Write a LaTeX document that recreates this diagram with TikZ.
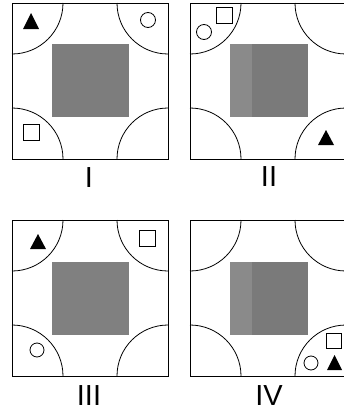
\documentclass[tikz,border=0pt]{standalone}
\usepackage{fontspec}
\setmainfont{Liberation Sans}
\begin{document}
\begin{tikzpicture}[x=1pt,y=-1pt,
  frame/.style={draw=black,line width=0.9pt},
  arcline/.style={draw=black,line width=0.8pt},
  shapeline/.style={draw=black,line width=0.8pt},
  grayA/.style={fill=black!46},
  grayB/.style={fill=black!52},
  lbl/.style={font=\fontsize{29}{29}\selectfont,inner sep=0pt}]
\useasboundingbox (0,0) rectangle (343,415);
% panel frames with corner arcs
\foreach \px/\py/\nm in {12/3/P1,190/3/P2,12/220/P3,190/220/P4}{
  \coordinate (\nm) at (\px,\py);
  \draw[frame] (\px,\py) rectangle ++(156,156);
  \draw[arcline] (\px,\py+51) arc[start angle=90,end angle=0,radius=51];
  \draw[arcline] (\px+105,\py) arc[start angle=180,end angle=90,radius=51];
  \draw[arcline] (\px,\py+105) arc[start angle=-90,end angle=0,radius=51];
  \draw[arcline] (\px+156,\py+105) arc[start angle=-90,end angle=-180,radius=51];
}
% gray squares
\fill[fill=black!51] (52,44) rectangle (129,117);
\fill[grayA] (230,44) rectangle (252,117);
\fill[grayB] (252,44) rectangle (308,117);
\fill[fill=black!50] (52,262) rectangle (129,335);
\fill[grayA] (230,262) rectangle (252,335);
\fill[grayB] (252,262) rectangle (308,335);
% panel I
\fill[black] (23,29) -- (39,29) -- (31,13) -- cycle;
\draw[shapeline] (148,20) circle[radius=7.5];
\draw[shapeline] (23,124) rectangle (39,140);
% panel II
\draw[shapeline] (204,32) circle[radius=7.5];
\draw[shapeline] (216,7) rectangle (232,23);
\fill[black] (318,145) -- (334,145) -- (326,130) -- cycle;
% panel III
\fill[black] (30,249) -- (46,249) -- (38,234) -- cycle;
\draw[shapeline] (139,230) rectangle (155,246);
\draw[shapeline] (37,350) circle[radius=7];
% panel IV
\draw[shapeline] (326,333) rectangle (341,348);
\draw[shapeline] (311,363) circle[radius=7];
\fill[black] (327,370) -- (342,370) -- (334.5,355) -- cycle;
% labels
\node[lbl] (L1) at (89,178) {I};
\node[lbl] (L2) at (269,177) {II};
\node[lbl] (L3) at (89,396) {III};
\node[lbl] (L4) at (269,396) {IV};
\end{tikzpicture}
\end{document}
